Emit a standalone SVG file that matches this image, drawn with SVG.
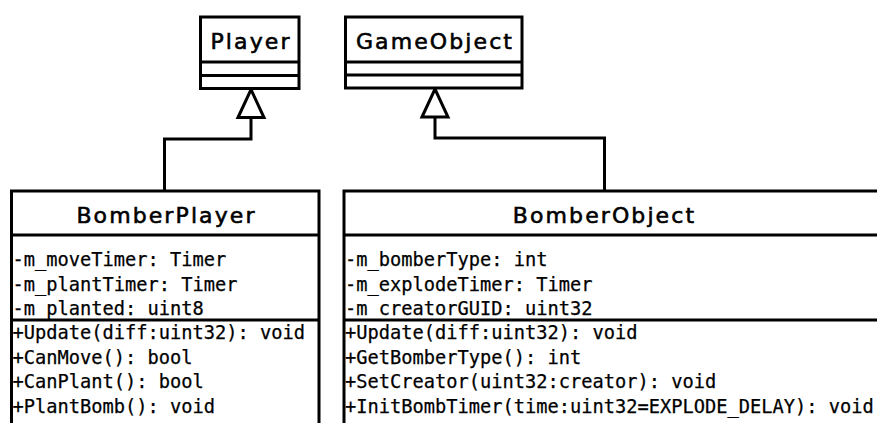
<svg xmlns="http://www.w3.org/2000/svg" width="877" height="423" viewBox="0 0 877 423">
  <style>
    .box { fill: #ffffff; stroke: #000000; stroke-width: 3; }
    .sep { stroke: #000000; stroke-width: 3; fill: none; }
    .edge { stroke: #000000; stroke-width: 3; fill: none; stroke-linejoin: miter; }
    .cls { font-family: "DejaVu Sans", sans-serif; font-size: 22px; letter-spacing: 2.1px; text-anchor: middle; fill: #000000; stroke: #000000; stroke-width: 0.6px; }
    .mem { font-family: "DejaVu Sans Mono", monospace; font-size: 18.7px; fill: #000000; stroke: #000000; stroke-width: 0.25px; }
  </style>
  <defs>
    <!-- hollow generalization arrowhead, tip at the path end -->
    <marker id="inherit" markerUnits="userSpaceOnUse" orient="auto" viewBox="-2 -16 32 32" refX="28" refY="0" markerWidth="32" markerHeight="32" overflow="visible">
      <path d="M0,-13 L28,0 L0,13 Z" fill="#ffffff" stroke="#000000" stroke-width="3" stroke-linejoin="miter"/>
    </marker>
  </defs>
  <rect width="877" height="423" fill="#ffffff"/>

  <!-- generalization connectors -->
  <g id="connectors">
    <path class="edge" d="M164.5,191 V139 H251 V89.5" marker-end="url(#inherit)"/>
    <path class="edge" d="M604.5,191 V138 H435 V89" marker-end="url(#inherit)"/>
  </g>

  <g id="Player">
    <rect class="box" x="200.5" y="17" width="98.5" height="71.5"/>
    <line class="sep" x1="200.5" y1="62" x2="299" y2="62"/>
    <line class="sep" x1="200.5" y1="75.5" x2="299" y2="75.5"/>
    <text class="cls" x="251" y="49">Player</text>
  </g>

  <g id="GameObject">
    <rect class="box" x="345.5" y="17" width="176.5" height="71"/>
    <line class="sep" x1="345.5" y1="62" x2="522" y2="62"/>
    <line class="sep" x1="345.5" y1="75" x2="522" y2="75"/>
    <text class="cls" x="435" y="48.5">GameObject</text>
  </g>

  <g id="BomberPlayer">
    <rect class="box" x="11.5" y="191" width="307.5" height="250"/>
    <line class="sep" x1="11.5" y1="235" x2="319" y2="235"/>
    <line class="sep" x1="11.5" y1="320" x2="319" y2="320"/>
    <text class="cls" x="166.5" y="223">BomberPlayer</text>
    <text class="mem" x="12.5" y="266">-m_moveTimer: Timer</text>
    <text class="mem" x="12.5" y="290.5">-m_plantTimer: Timer</text>
    <text class="mem" x="12.5" y="315">-m_planted: uint8</text>
    <text class="mem" x="12.5" y="339">+Update(diff:uint32): void</text>
    <text class="mem" x="12.5" y="363.5">+CanMove(): bool</text>
    <text class="mem" x="12.5" y="388">+CanPlant(): bool</text>
    <text class="mem" x="12.5" y="412.5">+PlantBomb(): void</text>
  </g>

  <g id="BomberObject">
    <rect class="box" x="344" y="191" width="545" height="250"/>
    <line class="sep" x1="344" y1="235" x2="889" y2="235"/>
    <line class="sep" x1="344" y1="320" x2="889" y2="320"/>
    <text class="cls" x="604.5" y="223">BomberObject</text>
    <text class="mem" x="345" y="266">-m_bomberType: int</text>
    <text class="mem" x="345" y="290.5">-m_explodeTimer: Timer</text>
    <text class="mem" x="345" y="315">-m_creatorGUID: uint32</text>
    <text class="mem" x="345" y="339">+Update(diff:uint32): void</text>
    <text class="mem" x="345" y="363.5">+GetBomberType(): int</text>
    <text class="mem" x="345" y="388">+SetCreator(uint32:creator): void</text>
    <text class="mem" x="345" y="412.5">+InitBombTimer(time:uint32=EXPLODE_DELAY): void</text>
  </g>
</svg>
